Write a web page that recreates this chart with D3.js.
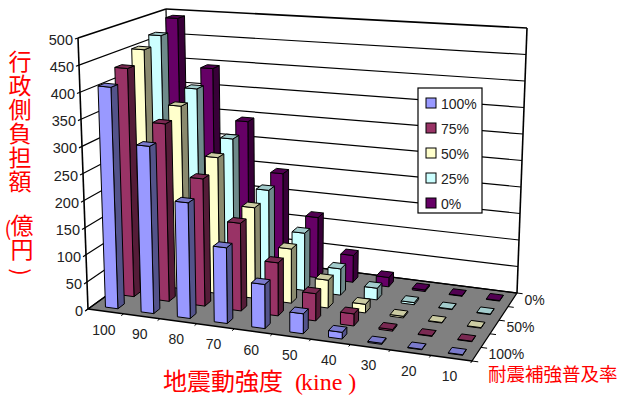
<!DOCTYPE html>
<html lang="ja">
<head>
<meta charset="utf-8">
<title>行政側負担額</title>
<style>
html, body { margin: 0; padding: 0; background: #fff; }
svg { display: block; }
text { font-family: "Liberation Sans", Arial, sans-serif; fill: #222; }
.red { font-family: "Noto Sans CJK JP", sans-serif; fill: #f00; }
.vert { writing-mode: vertical-rl; text-orientation: upright; }
</style>
</head>
<body>
<script src="https://d3js.org/d3.v7.min.js"></script>
<script>
// data
var categories = ["100", "90", "80", "70", "60", "50", "40", "30", "20", "10"];
var seriesNames = ["100%", "75%", "50%", "25%", "0%"];
var values100 = [410, 308, 212, 138, 80, 36, 12, 2, 1, 1];
var values75 = [432, 334, 238, 163, 98, 50, 22, 3, 1, 1];
var values50 = [455, 352, 260, 172, 102, 52, 16, 3, 1, 1];
var values25 = [470, 370, 278, 185, 110, 50, 22, 4, 1, 1];
var values0 = [492, 395, 294, 197, 118, 52, 18, 3, 1, 1];
var seriesValues = [values100, values75, values50, values25, values0];
var yTicks = [0, 50, 100, 150, 200, 250, 300, 350, 400, 450, 500];
var depthLabels = ["100%", "50%", "0%"];

var frontColors = ["#9999ff", "#993366", "#ffffcc", "#ccffff", "#660066"];
var sideColors = ["#53538a", "#551c38", "#8a8a6e", "#6e8a8a", "#380038"];
var topColors = ["#7a7acc", "#7a2952", "#cccca3", "#a3cccc", "#520052"];

var w = 620, h = 405;

//Box corners on screen: front-left, front-right, back-right, back-left
var floorQuad = [[88, 309], [472, 361], [517, 293], [171, 249]];
var topQuad = [[78, 38], [481, 76], [527, 28], [166, 9]];

function bilinear(q) {
	return function(u, v) {
		return [0, 1].map(function(k) {
			var front = q[0][k] + (q[1][k] - q[0][k]) * u;
			var back = q[3][k] + (q[2][k] - q[3][k]) * u;
			return front + (back - front) * v;
		});
	};
}
var floorMap = bilinear(floorQuad);
var topMap = bilinear(topQuad);

// u along categories, v into the depth, t up
function project(u, v, t) {
	var w2 = u - 0.08 * u * (1 - u);	//slight foreshortening to the left
	var f = floorMap(w2, v), c = topMap(w2, v);
	return [f[0] + (c[0] - f[0]) * t, f[1] + (c[1] - f[1]) * t];
}

var xScale = d3.scaleBand().domain(categories).range([0.003, 1.003]).paddingInner(0.65).paddingOuter(0.325);
var depthScale = d3.scaleBand().domain(seriesNames).range([0, 1]).paddingInner(0.6).paddingOuter(0.3);
var zScale = d3.scaleLinear().domain([0, 500]).range([0, 1]);

var svg = d3.select("body").append("svg").attr("width", w).attr("height", h);
var path = d3.line().curve(d3.curveLinearClosed);

function face(g, pts, fill, sw) {
	g.append("path").attr("d", path(pts)).attr("fill", fill)
		.attr("stroke", "#000").attr("stroke-width", sw).attr("stroke-linejoin", "round");
}
function seg(g, a, b, sw) {
	g.append("line").attr("x1", a[0]).attr("y1", a[1]).attr("x2", b[0]).attr("y2", b[1])
		.attr("stroke", "#000").attr("stroke-width", sw);
}

//Walls and floor
var box = svg.append("g");
face(box, [project(0, 0, 0), project(1, 0, 0), project(1, 1, 0), project(0, 1, 0)], "#808080", 1.3);
yTicks.forEach(function(d) {
	var t = zScale(d);
	seg(box, project(0, 0, t), project(0, 1, t), d == 500 ? 1.6 : 1.2);
	seg(box, project(0, 1, t), project(1, 1, t), d == 500 ? 1.6 : 1.2);
	seg(box, project(0, 0, t), project(0, -0.035, t), 1.2);
});
seg(box, project(0, 0, 0), project(0, 0, 1), 1.6);
seg(box, project(0, 1, 0), project(0, 1, 1), 1.2);
seg(box, project(1, 1, 0), project(1, 1, 1), 1.6);
//Floor ticks
d3.range(categories.length + 1).forEach(function(i) {
	seg(box, project(i / categories.length, 0, 0), project(i / categories.length, -0.03, 0), 1);
});
d3.range(seriesNames.length + 1).forEach(function(i) {
	seg(box, project(1, i / seriesNames.length, 0), project(1.015, i / seriesNames.length, 0), 1);
});

//Bars, back row first
var bars = svg.append("g");
d3.range(seriesNames.length - 1, -1, -1).forEach(function(j) {
	var v0 = depthScale(seriesNames[j]), v1 = v0 + depthScale.bandwidth();
	categories.forEach(function(c, i) {
		var u0 = xScale(c), u1 = u0 + xScale.bandwidth();
		var t = zScale(seriesValues[j][i]);
		face(bars, [project(u1, v0, 0), project(u1, v1, 0), project(u1, v1, t), project(u1, v0, t)], sideColors[j], 1);
		face(bars, [project(u0, v0, 0), project(u1, v0, 0), project(u1, v0, t), project(u0, v0, t)], frontColors[j], 1);
		face(bars, [project(u0, v0, t), project(u1, v0, t), project(u1, v1, t), project(u0, v1, t)], topColors[j], 1);
	});
});

//Y labels
yTicks.forEach(function(d) {
	var p = project(0, 0, zScale(d));
	svg.append("text").attr("x", p[0] - 5).attr("y", p[1] + 7)
		.attr("text-anchor", "end").attr("font-size", 14.5).text(d);
});
//Category labels
categories.forEach(function(c) {
	var p = project(xScale(c) + xScale.bandwidth() / 2, 0, 0);
	svg.append("text").attr("x", p[0] - 3).attr("y", p[1] + 23)
		.attr("text-anchor", "middle").attr("font-size", 14).text(c);
});
//Depth labels
depthLabels.forEach(function(d) {
	var p = project(1, depthScale(d) + depthScale.bandwidth() / 2, 0);
	svg.append("text").attr("x", p[0] + 12).attr("y", p[1] + 5)
		.attr("font-size", 14).text(d);
});

//Legend
var legend = svg.append("g");
legend.append("rect").attr("x", 418).attr("y", 88).attr("width", 64).attr("height", 125)
	.attr("fill", "#fff").attr("stroke", "#000").attr("stroke-width", 1.2);
var legendY = d3.scalePoint().domain(seriesNames).range([103, 203]);
seriesNames.forEach(function(s, j) {
	legend.append("rect").attr("x", 426).attr("y", legendY(s) - 5).attr("width", 10).attr("height", 10)
		.attr("fill", frontColors[j]).attr("stroke", "#000");
	legend.append("text").attr("x", 441).attr("y", legendY(s) + 6).attr("font-size", 14).text(s);
});

//Titles
svg.append("text").attr("class", "red vert").attr("x", 20).attr("y", 50)
	.attr("font-size", 23).attr("letter-spacing", 1).text("行政側負担額");
svg.append("text").attr("class", "red").attr("x", 8).attr("y", 236)
	.attr("text-anchor", "middle").attr("font-size", 20).text("(");
svg.append("text").attr("class", "red vert").attr("x", 22).attr("y", 214)
	.attr("font-size", 23).attr("letter-spacing", 1).text("億円");
svg.append("text").attr("class", "red").attr("font-size", 22)
	.attr("text-anchor", "middle")
	.attr("transform", "translate(13,272) rotate(90)").text(")");

var xTitle = svg.append("text").attr("class", "red").attr("x", 163).attr("y", 390).attr("font-size", 24);
xTitle.append("tspan").text("地震動強度");
xTitle.append("tspan").attr("dx", 12).attr("style", "font-family:'Liberation Serif',serif").text("(");
xTitle.append("tspan").attr("dx", -2).attr("style", "font-family:'Liberation Serif',serif").text("kine )");

svg.append("text").attr("class", "red").attr("x", 488).attr("y", 381).attr("font-size", 18.5).text("耐震補強普及率");
</script>
</body>
</html>
